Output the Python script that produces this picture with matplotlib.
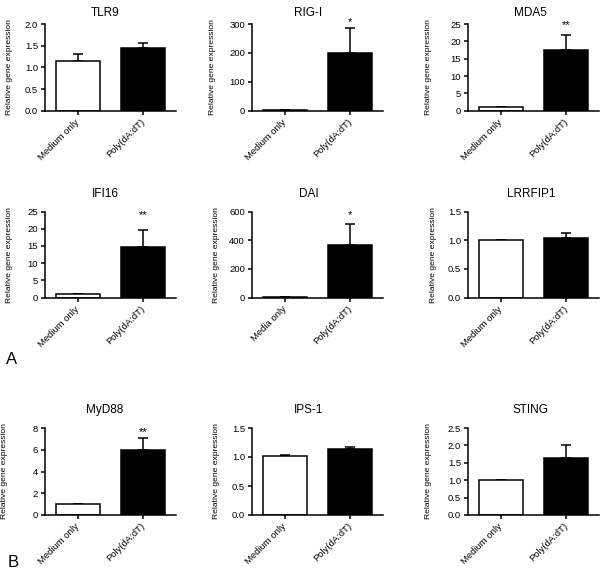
import numpy as np
import matplotlib.pyplot as plt

plt.rcParams['font.family'] = ['Liberation Sans', 'DejaVu Sans']

genes = ['TLR9', 'RIG-I', 'MDA5', 'IFI16', 'DAI', 'LRRFIP1', 'MyD88', 'IPS-1', 'STING']
control_labels = ['Medium only', 'Medium only', 'Medium only', 'Medium only', 'Media only',
                  'Medium only', 'Medium only', 'Medium only', 'Medium only']
treated_label = 'Poly(dA:dT)'
medium = [1.15, 2, 1.0, 1.0, 2, 1.0, 1.0, 1.02, 1.0]
medium_err = [0.15, 0, 0, 0, 0, 0, 0, 0.01, 0]
poly = [1.45, 200, 17.5, 14.6, 365, 1.04, 5.97, 1.13, 1.64]
poly_err = [0.12, 85, 4.4, 4.9, 145, 0.08, 1.1, 0.04, 0.37]
y_max = [2.0, 300, 25, 25, 600, 1.5, 8, 1.5, 2.5]
y_step = [0.5, 100, 5, 5, 200, 0.5, 2, 0.5, 0.5]
stars = ['', '*', '**', '**', '*', '', '**', '', '']
star_y = [0, 308, 24.7, 24.0, 572, 0, 7.63, 0, 0]

W, H = 600, 569
AX_W = 131
col_left = [45, 252, 468]
row_span = [(24, 110.7), (211.5, 297.7), (428, 515)]
title_pad = [6, 10.5, 10.5]
title_x = [0.458, 0.43, 0.48]
label_off = [-32, -36, -36, -32, -32, -31, -37, -32, -36]  # px from the y spine

fig = plt.figure(figsize=(6, 5.69), dpi=100)

for i, gene in enumerate(genes):
    r, c = divmod(i, 3)
    top, bot = row_span[r]
    ax = fig.add_axes([col_left[c] / W, 1 - bot / H, AX_W / W, (bot - top) / H])

    vals = [medium[i], poly[i]]
    ax.bar([0, 1], vals, width=0.67, color=['white', 'black'],
           edgecolor='black', linewidth=1.1, zorder=2)
    ax.errorbar([0, 1], vals, yerr=[[0, 0], [medium_err[i], poly_err[i]]],
                fmt='none', ecolor='black', elinewidth=1.1, capsize=3.9,
                capthick=1.1, zorder=1)

    ax.set_xlim(-0.5, 1.5)
    ax.set_ylim(0, y_max[i])
    ticks = np.arange(0, y_max[i] + y_step[i] / 2, y_step[i])
    ax.set_yticks(ticks)
    if y_step[i] < 1:
        ax.set_yticklabels(['%.1f' % t for t in ticks])
    else:
        ax.set_yticklabels(['%d' % t for t in ticks])
    ax.set_xticks([0, 1])
    ax.set_xticklabels([control_labels[i], treated_label], rotation=45,
                       ha='right', va='center', rotation_mode='anchor')

    for s in ['top', 'right']:
        ax.spines[s].set_visible(False)
    for s in ['left', 'bottom']:
        ax.spines[s].set_linewidth(1.1)
    ax.tick_params(axis='both', length=3, width=1.1, labelsize=6.8, pad=2)
    ax.tick_params(axis='x', pad=4)

    ax.set_ylabel('Relative gene expression', fontsize=6.1)
    ax.yaxis.set_label_coords(label_off[i] / AX_W, 0.5)
    ax.set_title(gene, fontsize=8.5, x=title_x[c], pad=title_pad[r])

    if stars[i]:
        ax.text(1, star_y[i], stars[i], ha='center', va='center', fontsize=8)

fig.text(6 / W, 1 - 364 / H, 'A', fontsize=12, va='baseline')
fig.text(8 / W, 1 - 567 / H, 'B', fontsize=12, va='baseline')

fig.savefig('out.png', dpi=100)
